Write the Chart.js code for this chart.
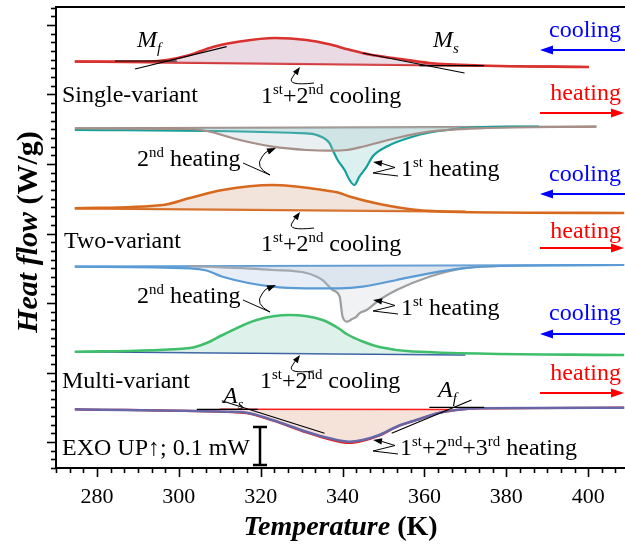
<!DOCTYPE html>
<html>
<head>
<meta charset="utf-8">
<script src="https://cdn.jsdelivr.net/npm/chart.js@4.4.1/dist/chart.umd.min.js"></script>
<style>
html, body { margin: 0; padding: 0; background: #fff; }
#wrap { width: 625px; height: 548px; }
</style>
</head>
<body>
<div id="wrap"><canvas id="dsc"></canvas></div>
<script>
// temperature axis (K)
const xTicks = [280, 300, 320, 340, 360, 380, 400];
// heat flow axis, arbitrary units (exo up), no labels in the figure
const yMajorTicks = [26, 95.5, 165, 234.5, 304, 373.5, 443];

// single-variant, 1st+2nd cooling
const svCoolT = [274.6, 292.9, 297.1, 302.7, 308.3, 314.9, 323.5, 331.2, 336.5, 341.5, 346.6, 353.2, 361.2, 373.4, 400.2];
const svCoolH = [406.5, 406.5, 408, 413, 421, 426.5, 430, 428, 424, 418.5, 413.5, 409.5, 405, 402.5, 401];
const svCoolBaseT = [274.6, 400.2];
const svCoolBaseH = [406.3, 401];
// single-variant heating
const svHeat2T = [274.6, 302.7, 306.8, 314.9, 322.9, 331.2, 337.6, 341, 344.9, 353.2, 361.2, 373.4, 402];
const svHeat2H = [339.7, 339, 337, 328, 321.3, 318, 317.3, 318, 321.3, 330, 336.3, 339.7, 341.3];
const svHeat1T = [274.6, 331.2, 333.7, 336.8, 337.6, 338.8, 340.5, 341.7, 342.9, 344.1, 345.9, 347.3, 350.7, 357.1, 365.4, 381.5, 388];
const svHeat1H = [338, 334.7, 333, 325, 318, 308, 298, 288, 283, 291.3, 301.3, 311.3, 321.3, 331.3, 338, 341.3, 341.3];
const svHeatBaseT = [274.6, 402];
const svHeatBaseH = [339.7, 341.3];

// two-variant, 1st+2nd cooling
const tvCoolT = [274.6, 296.1, 302.7, 310.7, 322.9, 335.1, 339.3, 341.7, 349, 357.1, 368.5, 408.8];
const tvCoolH = [259.7, 263, 270, 278, 283, 278, 275, 271.5, 264, 258.5, 256, 255];
const tvCoolBaseT = [274.6, 370];
const tvCoolBaseH = [259.7, 256.3];
// two-variant heating
const tvHeat2T = [274.6, 302.7, 306.8, 310.7, 322.9, 331.2, 339.3, 344.9, 353.2, 361.2, 369.3, 377.6, 408.8];
const tvHeat2H = [201.3, 199.7, 197.5, 191.3, 181.3, 179.7, 179.7, 181.3, 188, 194.7, 199.7, 202, 203];
const tvHeat1T = [302.7, 322.9, 331.2, 335.1, 337.6, 339.3, 340, 341.2, 342.3, 343.4, 344.1, 345.9, 349, 353.2, 361.2, 369.3, 378.3];
const tvHeat1H = [202, 198, 195, 188, 178, 171.3, 151.3, 146.3, 149, 151.3, 154.7, 158, 168, 178, 191.3, 199.7, 202];
const tvHeatBaseT = [274.6, 408.8];
const tvHeatBaseH = [201.3, 203];

// multi-variant, 1st+2nd cooling
const mvCoolT = [274.6, 302.7, 306.8, 310.7, 319, 327.1, 335.1, 339.3, 341, 344.9, 349, 357.1, 408.8];
const mvCoolH = [116.3, 120, 125, 133, 148, 153, 148, 139, 134, 126.5, 121, 116.5, 113];
const mvCoolBaseT = [274.6, 370];
const mvCoolBaseH = [116.3, 113];
// multi-variant, 1st+2nd+3rd heating
const mvHeatT = [274.6, 311.7, 316.6, 322.9, 331.2, 336.8, 341.7, 344.9, 349, 353.2, 358, 363.7, 369.3, 373.4, 408.8];
const mvHeatH = [58.7, 56.3, 55.3, 48, 36.3, 29.7, 26.3, 28, 33, 41.3, 48, 55.3, 58.7, 59.7, 60.3];
const mvHeat3H = [58.7, 56, 54.8, 47.5, 35.5, 28.5, 25, 27, 32.5, 41, 47.8, 55.2, 58.7, 59.7, 60.3];
const mvHeatBaseT = [310, 366];
const mvHeatBaseH = [58.7, 58.5];

// onset / finish tangents
const mfTangT = [289.3, 311.7], mfTangH = [399, 421.3];
const mfBaseT = [284.4, 299.5], mfBaseH = [407, 407];
const msTangT = [344.9, 369.8], msTangH = [415, 395];
const msBaseT = [358.8, 374.6], msBaseH = [402.3, 402.3];
const asTangT = [310.5, 335.6], asTangH = [67.3, 34.7];
const asBaseT = [304.4, 319.3], asBaseH = [58.7, 58.7];
const afTangT = [352, 371.5], afTangH = [34.7, 68];
const afBaseT = [361.2, 374.6], afBaseH = [60.7, 60.7];

const SERIF = '"Liberation Serif", "Times New Roman", serif';

function pts(t, h) {
	return t.map((v, i) => ({ x: v, y: h[i] }));
}

function curve(t, h, color, width, extra) {
	return Object.assign({
		data: pts(t, h),
		borderColor: color,
		borderWidth: width,
		pointRadius: 0,
		fill: false,
		cubicInterpolationMode: 'monotone',
		order: 1
	}, extra || {});
}

function tangent(t, h) {
	return curve(t, h, '#000', 1.2, { order: 0, cubicInterpolationMode: 'default', tension: 0 });
}

let datasets = [
	curve(svCoolBaseT, svCoolBaseH, '#d8312e', 2.2, { order: 2 }),                                 // 0
	curve(svCoolT, svCoolH, '#d8312e', 2.6, { fill: { target: 0, above: 'rgba(190,140,170,0.32)', below: 'rgba(190,140,170,0.32)' } }),
	curve(svHeatBaseT, svHeatBaseH, '#a58f88', 2.2, { order: 2 }),                                 // 2
	curve(svHeat2T, svHeat2H, '#a58f88', 2.2, { fill: { target: 2, above: 'rgba(170,190,200,0.25)', below: 'rgba(170,190,200,0.25)' } }),
	curve(svHeat1T, svHeat1H, '#16a09b', 2.2, { fill: { target: 2, above: 'rgba(140,205,205,0.3)', below: 'rgba(140,205,205,0.3)' } }),
	curve(tvCoolBaseT, tvCoolBaseH, '#d7691f', 2.2, { order: 2 }),                                 // 5
	curve(tvCoolT, tvCoolH, '#d7691f', 2.6, { fill: { target: 5, above: 'rgba(215,170,140,0.32)', below: 'rgba(215,170,140,0.32)' } }),
	curve(tvHeatBaseT, tvHeatBaseH, '#5b9bd5', 2.2, { order: 2 }),                                 // 7
	curve(tvHeat2T, tvHeat2H, '#5b9bd5', 2.2, { fill: { target: 7, above: 'rgba(170,195,225,0.28)', below: 'rgba(170,195,225,0.28)' } }),
	curve(tvHeat1T, tvHeat1H, '#9e9e9e', 2.2, { fill: { target: 7, above: 'rgba(190,195,205,0.22)', below: 'rgba(190,195,205,0.22)' } }),
	curve(mvCoolBaseT, mvCoolBaseH, '#2f4f9f', 1.5, { order: 2 }),                                 // 10
	curve(mvCoolT, mvCoolH, '#3fbf6b', 2.6, { fill: { target: 10, above: 'rgba(150,210,190,0.3)', below: 'rgba(150,210,190,0.3)' } }),
	curve(mvHeatBaseT, mvHeatBaseH, '#ff1a1a', 1.5, { order: 0.5 }),                               // 12
	curve(mvHeatT, mvHeat3H, '#e8231f', 2.2, { order: 1.5 }),
	curve(mvHeatT, mvHeatH, '#6767a8', 2.6, { fill: { target: 12, above: 'rgba(225,175,150,0.35)', below: 'rgba(225,175,150,0.35)' } }),
	tangent(mfTangT, mfTangH), tangent(mfBaseT, mfBaseH),
	tangent(msTangT, msTangH), tangent(msBaseT, msBaseH),
	tangent(asTangT, asTangH), tangent(asBaseT, asBaseH),
	tangent(afTangT, afTangH), tangent(afBaseT, afBaseH)
];

// text with superscripts / subscripts / italics
function rich(ctx, x, y, parts, size, color, align) {
	let setFont = (kind) => {
		let k = kind.split(' '), fs = size, style = '';
		if (k.includes('sup') || k.includes('sub')) fs = size * 0.62;
		if (k.includes('i')) style += 'italic ';
		if (k.includes('b')) style += 'bold ';
		ctx.font = style + fs + 'px ' + SERIF;
	};
	ctx.save();
	let w = 0;
	parts.forEach(([txt, kind]) => { setFont(kind); w += ctx.measureText(txt).width; });
	let cx = align === 'center' ? x - w / 2 : (align === 'right' ? x - w : x);
	ctx.fillStyle = color || '#000';
	ctx.textBaseline = 'alphabetic';
	ctx.textAlign = 'left';
	parts.forEach(([txt, kind]) => {
		setFont(kind);
		let k = kind.split(' '), dy = 0;
		if (k.includes('sup')) dy = -size * 0.36;
		if (k.includes('sub')) dy = size * 0.24;
		ctx.fillText(txt, cx, y + dy);
		cx += ctx.measureText(txt).width;
	});
	ctx.restore();
}

function head(ctx, tx, ty, fx, fy, len, half, color) {
	let a = Math.atan2(ty - fy, tx - fx);
	ctx.save();
	ctx.fillStyle = color;
	ctx.beginPath();
	ctx.moveTo(tx, ty);
	ctx.lineTo(tx - len * Math.cos(a) + half * Math.sin(a), ty - len * Math.sin(a) - half * Math.cos(a));
	ctx.lineTo(tx - len * Math.cos(a) - half * Math.sin(a), ty - len * Math.sin(a) + half * Math.cos(a));
	ctx.closePath();
	ctx.fill();
	ctx.restore();
}

function dirArrow(ctx, y, left, color) {
	ctx.save();
	ctx.strokeStyle = color;
	ctx.lineWidth = 2;
	ctx.beginPath();
	if (left) { ctx.moveTo(625, y); ctx.lineTo(548, y); }
	else { ctx.moveTo(540, y); ctx.lineTo(615, y); }
	ctx.stroke();
	if (left) head(ctx, 540, y, 560, y, 13, 4.5, color);
	else head(ctx, 624, y, 600, y, 13, 4.5, color);
	ctx.restore();
}

function coolSquiggle(ctx, dy) {
	ctx.save();
	ctx.strokeStyle = '#000';
	ctx.lineWidth = 1;
	ctx.beginPath();
	ctx.moveTo(314, 83 + dy);
	ctx.quadraticCurveTo(287, 86 + dy, 292, 78 + dy);
	ctx.quadraticCurveTo(295, 73 + dy, 297, 71 + dy);
	ctx.stroke();
	head(ctx, 300, 67 + dy, 295, 74 + dy, 8, 3, '#000');
	ctx.restore();
}

function heat2Squiggle(ctx, dy) {
	ctx.save();
	ctx.strokeStyle = '#000';
	ctx.lineWidth = 1;
	ctx.beginPath();
	ctx.moveTo(243, 163 + dy);
	ctx.lineTo(270, 175 + dy);
	ctx.quadraticCurveTo(254, 167 + dy, 262, 157 + dy);
	ctx.quadraticCurveTo(265, 152 + dy, 268, 151 + dy);
	ctx.stroke();
	head(ctx, 276, 148 + dy, 264, 153 + dy, 9, 3.2, '#000');
	ctx.restore();
}

function heat1Squiggle(ctx, dy) {
	ctx.save();
	ctx.strokeStyle = '#000';
	ctx.lineWidth = 1;
	ctx.beginPath();
	ctx.moveTo(398, 176 + dy);
	ctx.lineTo(373, 173 + dy);
	ctx.lineTo(395, 167.5 + dy);
	ctx.lineTo(382, 163.5 + dy);
	ctx.stroke();
	head(ctx, 373, 162 + dy, 386, 164 + dy, 9, 3.2, '#000');
	ctx.restore();
}

const decor = {
	id: 'decor',
	afterDraw(chart) {
		const ctx = chart.ctx;
		const xs = chart.scales.x, ys = chart.scales.y;
		const a = chart.chartArea;

		// frame
		ctx.save();
		ctx.strokeStyle = '#000';
		ctx.lineWidth = 2;
		ctx.beginPath();
		ctx.moveTo(a.right + 2, a.top);
		ctx.lineTo(a.left, a.top);
		ctx.lineTo(a.left, a.bottom);
		ctx.lineTo(a.right + 2, a.bottom);
		ctx.stroke();

		// x ticks: 6 subdivisions between majors
		ctx.lineWidth = 1.6;
		let xStep = (xTicks[1] - xTicks[0]) / 6;
		for (let v = xTicks[0] - 20; v <= xTicks[xTicks.length - 1] + 20 + 1e-6; v += xStep) {
			if (v < xs.min - 1e-6 || v > xs.max) continue;
			let px = Math.round(xs.getPixelForValue(v)) + 0.5;
			let major = xTicks.some(t => Math.abs(t - v) < 1e-6);
			ctx.beginPath();
			ctx.moveTo(px, a.bottom);
			ctx.lineTo(px, a.bottom + (major ? 9 : 5));
			ctx.stroke();
		}
		// y ticks: 8 subdivisions between majors
		let yStep = (yMajorTicks[1] - yMajorTicks[0]) / 8;
		for (let v = yMajorTicks[0] - yStep * 8; v <= yMajorTicks[yMajorTicks.length - 1] + yStep * 8; v += yStep) {
			if (v < ys.min - 0.5 || v > ys.max + 0.5) continue;
			let py = Math.round(ys.getPixelForValue(v)) + 0.5;
			let major = yMajorTicks.some(t => Math.abs(t - v) < 1e-6);
			ctx.beginPath();
			ctx.moveTo(a.left, py);
			ctx.lineTo(a.left - (major ? 9 : 5), py);
			ctx.stroke();
		}
		ctx.restore();

		// axis titles
		rich(ctx, (a.left + a.right) / 2, 535, [['Temperature', 'b i'], [' (K)', 'b']], 28, '#000', 'center');
		ctx.save();
		ctx.translate(37, 232);
		ctx.rotate(-Math.PI / 2);
		rich(ctx, 0, 0, [['Heat flow', 'b i'], [' (W/g)', 'b']], 30, '#000', 'center');
		ctx.restore();

		// sample labels
		rich(ctx, 62, 102, [['Single-variant', 'n']], 24);
		rich(ctx, 64, 248, [['Two-variant', 'n']], 24);
		rich(ctx, 62, 388, [['Multi-variant', 'n']], 24);
		rich(ctx, 62, 455, [['EXO UP\u2191; 0.1 mW', 'n']], 24);

		const coolLabel = [['1', 'n'], ['st', 'sup'], ['+2', 'n'], ['nd', 'sup'], [' cooling', 'n']];
		rich(ctx, 261, 103, coolLabel, 24);
		rich(ctx, 261, 251, coolLabel, 24);
		rich(ctx, 260, 388, coolLabel, 24);
		rich(ctx, 137, 166, [['2', 'n'], ['nd', 'sup'], [' heating', 'n']], 24);
		rich(ctx, 137, 303, [['2', 'n'], ['nd', 'sup'], [' heating', 'n']], 24);
		rich(ctx, 401, 176, [['1', 'n'], ['st', 'sup'], [' heating', 'n']], 24);
		rich(ctx, 401, 315, [['1', 'n'], ['st', 'sup'], [' heating', 'n']], 24);
		rich(ctx, 400, 455, [['1', 'n'], ['st', 'sup'], ['+2', 'n'], ['nd', 'sup'], ['+3', 'n'], ['rd', 'sup'], [' heating', 'n']], 24);

		rich(ctx, 137, 47, [['M', 'i'], ['f', 'i sub']], 24);
		rich(ctx, 433, 47, [['M', 'i'], ['s', 'i sub']], 24);
		rich(ctx, 223, 403, [['A', 'i'], ['s', 'i sub']], 24);
		rich(ctx, 438, 397, [['A', 'i'], ['f', 'i sub']], 24);

		// direction labels
		const dirs = [[37, 50, true], [100, 113, false], [181, 194, true], [238, 248, false], [320, 334, true], [380, 393, false]];
		dirs.forEach(([ty, ay, cool]) => {
			let c = cool ? '#0000ff' : '#ff0000';
			rich(ctx, 621, ty, [[cool ? 'cooling' : 'heating', 'n']], 24, c, 'right');
			dirArrow(ctx, ay, cool, c);
		});

		coolSquiggle(ctx, 0);
		coolSquiggle(ctx, 145);
		coolSquiggle(ctx, 288);
		heat2Squiggle(ctx, 0);
		heat2Squiggle(ctx, 137);
		heat1Squiggle(ctx, 0);
		heat1Squiggle(ctx, 138);
		heat1Squiggle(ctx, 278);

		// 0.1 mW scale bar
		ctx.save();
		ctx.strokeStyle = '#000';
		ctx.lineWidth = 2.5;
		ctx.beginPath();
		ctx.moveTo(260, 427); ctx.lineTo(260, 465);
		ctx.moveTo(253, 427); ctx.lineTo(267, 427);
		ctx.moveTo(253, 465); ctx.lineTo(267, 465);
		ctx.stroke();
		ctx.restore();
	}
};

new Chart(document.getElementById('dsc').getContext('2d'), {
	type: 'line',
	data: { datasets: datasets },
	options: {
		responsive: true,
		maintainAspectRatio: false,
		animation: false,
		events: [],
		layout: { padding: { left: 56, top: 7, right: 0, bottom: 0 } },
		plugins: {
			legend: { display: false },
			tooltip: { enabled: false },
			filler: { propagate: false }
		},
		scales: {
			x: {
				type: 'linear',
				min: 270,
				max: 409,
				afterFit: (s) => { s.height = 80; },
				afterBuildTicks: (s) => { s.ticks = xTicks.map(v => ({ value: v })); },
				grid: { display: false, drawTicks: false },
				border: { display: false },
				ticks: {
					color: '#000',
					padding: 16,
					maxRotation: 0,
					autoSkip: false,
					font: { family: SERIF, size: 22 }
				}
			},
			y: {
				type: 'linear',
				display: false,
				min: 0,
				max: 461
			}
		}
	},
	plugins: [decor]
});
</script>
</body>
</html>
